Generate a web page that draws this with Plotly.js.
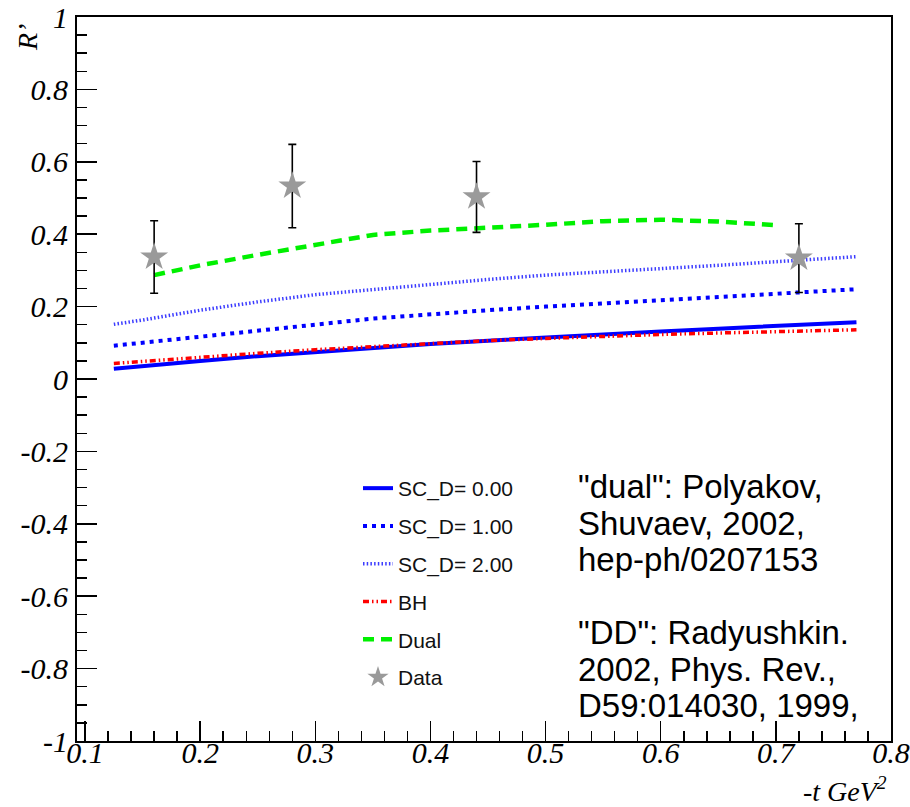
<!DOCTYPE html>
<html>
<head>
<meta charset="utf-8">
<script src="https://cdn.plot.ly/plotly-3.0.1.min.js"></script>
<style>html,body{margin:0;padding:0;background:#fff;}#chart{width:910px;height:807px;}</style>
</head>
<body>
<div id="chart"></div>
<script>
// -t values for the model curves
const tModel = [0.125, 0.15, 0.2, 0.25, 0.3, 0.35, 0.4, 0.45, 0.5, 0.55, 0.6, 0.65, 0.7, 0.77];
const sc0 = [0.028, 0.036, 0.050, 0.063, 0.075, 0.087, 0.097, 0.106, 0.115, 0.123, 0.131, 0.139, 0.146, 0.157];
const sc1 = [0.092, 0.100, 0.116, 0.132, 0.150, 0.167, 0.179, 0.190, 0.200, 0.209, 0.217, 0.226, 0.235, 0.248];
const sc2 = [0.151, 0.163, 0.190, 0.213, 0.233, 0.247, 0.262, 0.275, 0.287, 0.297, 0.305, 0.314, 0.324, 0.338];
const bh  = [0.043, 0.049, 0.060, 0.071, 0.081, 0.090, 0.099, 0.106, 0.112, 0.118, 0.123, 0.127, 0.131, 0.136];
// Dual model
const tDual = [0.16, 0.2, 0.25, 0.3, 0.35, 0.4, 0.45, 0.5, 0.55, 0.6, 0.65, 0.7];
const dual  = [0.287, 0.314, 0.343, 0.371, 0.398, 0.410, 0.417, 0.426, 0.436, 0.440, 0.435, 0.425];
// Data
const tData = [0.16, 0.28, 0.44, 0.72];
const rData = [0.337, 0.533, 0.503, 0.334];
const eData = [0.100, 0.115, 0.098, 0.095];
// Tick labels
const xTickVals = [0.1, 0.2, 0.3, 0.4, 0.5, 0.6, 0.7, 0.8];
const xTickText = ["0.1", "0.2", "0.3", "0.4", "0.5", "0.6", "0.7", "0.8"];
const yTickVals = [-1, -0.8, -0.6, -0.4, -0.2, 0, 0.2, 0.4, 0.6, 0.8, 1];
const yTickText = ["-1", "-0.8", "-0.6", "-0.4", "-0.2", "0", "0.2", "0.4", "0.6", "0.8", "1"];
const noteLines = ['"dual": Polyakov,', 'Shuvaev, 2002,', 'hep-ph/0207153', '', '"DD": Radyushkin.', '2002, Phys. Rev.,', 'D59:014030, 1999,'];

const serif = "'Liberation Serif', 'Times New Roman', serif";
const sans = "'Liberation Sans', Arial, sans-serif";

const traces = [
  {x: tModel, y: sc0, name: 'SC_D= 0.00', mode: 'lines', legendgroup: 'a',
   line: {color: '#0000ff', width: 4, dash: 'solid'}},
  {x: tModel, y: sc1, name: 'SC_D= 1.00', mode: 'lines', legendgroup: 'b',
   line: {color: '#0000ff', width: 4, dash: '4px,5px'}},
  {x: tModel, y: sc2, name: 'SC_D= 2.00', mode: 'lines', legendgroup: 'c',
   line: {color: '#3c3cff', width: 3.5, dash: '1.5px,2.2px'}},
  {x: tModel, y: bh, name: 'BH', mode: 'lines', legendgroup: 'd',
   line: {color: '#ff0000', width: 3.5, dash: '6px,3px,1.5px,3px,1.5px,3px'}},
  {x: tDual, y: dual, name: 'Dual', mode: 'lines', legendgroup: 'e',
   line: {color: '#00f000', width: 4.5, dash: '11px,7px'}},
  {x: tData, y: rData, name: 'Data', mode: 'markers', legendgroup: 'f',
   marker: {symbol: 'star', size: 21, color: '#9a9a9a', line: {width: 0}},
   error_y: {type: 'data', array: eData, visible: true, color: '#000', thickness: 1.6, width: 4}}
];

const px2x = p => (p - 77) / 814;
const px2y = p => (741 - p) / 724;

const annotations = noteLines.map((s, i) => ({
  text: s, xref: 'paper', yref: 'paper', x: px2x(576), y: px2y(487 + 36.4 * i),
  xanchor: 'left', yanchor: 'middle', showarrow: false,
  font: {family: sans, size: 33, color: '#000'}
}));
annotations.push({
  text: 'R’', xref: 'paper', yref: 'paper', x: px2x(27), y: px2y(38), textangle: -90,
  xanchor: 'center', yanchor: 'middle', showarrow: false,
  font: {family: serif, size: 28, style: 'italic', color: '#000'}
});
annotations.push({
  text: '-t GeV<sup>2</sup>', xref: 'paper', yref: 'paper', x: px2x(889), y: px2y(790),
  xanchor: 'right', yanchor: 'middle', showarrow: false,
  font: {family: serif, size: 28, style: 'italic', color: '#000'}
});

const tickFont = {family: serif, size: 30, style: 'italic', color: '#000'};

const layout = {
  width: 910, height: 807,
  margin: {l: 77, r: 19, t: 17, b: 66},
  paper_bgcolor: '#fff', plot_bgcolor: '#fff',
  showlegend: true,
  legend: {x: px2x(358), y: px2y(468), xanchor: 'left', yanchor: 'top',
           bgcolor: 'rgba(0,0,0,0)', borderwidth: 0, tracegroupgap: 7.5,
           font: {family: sans, size: 21, color: '#111'}},
  xaxis: {range: [0.093, 0.8], tickvals: xTickVals, ticktext: xTickText,
          ticks: 'inside', ticklen: 20, tickwidth: 1.5, tickcolor: '#000',
          minor: {dtick: 0.02, tick0: 0, ticks: 'inside', ticklen: 10, tickwidth: 1.5, tickcolor: '#000', showgrid: false},
          showgrid: false, zeroline: false, showline: true, mirror: true, linecolor: '#000', linewidth: 2,
          tickfont: tickFont, ticklabelstandoff: -16},
  yaxis: {range: [-1, 1], tickvals: yTickVals, ticktext: yTickText,
          ticks: 'inside', ticklen: 20, tickwidth: 1.5, tickcolor: '#000',
          minor: {dtick: 0.05, tick0: 0, ticks: 'inside', ticklen: 10, tickwidth: 1.5, tickcolor: '#000', showgrid: false},
          showgrid: false, zeroline: false, showline: true, mirror: true, linecolor: '#000', linewidth: 2,
          tickfont: tickFont, ticklabelstandoff: 1},
  annotations: annotations
};

Plotly.newPlot('chart', traces, layout, {displayModeBar: false, staticPlot: true});
</script>
</body>
</html>
